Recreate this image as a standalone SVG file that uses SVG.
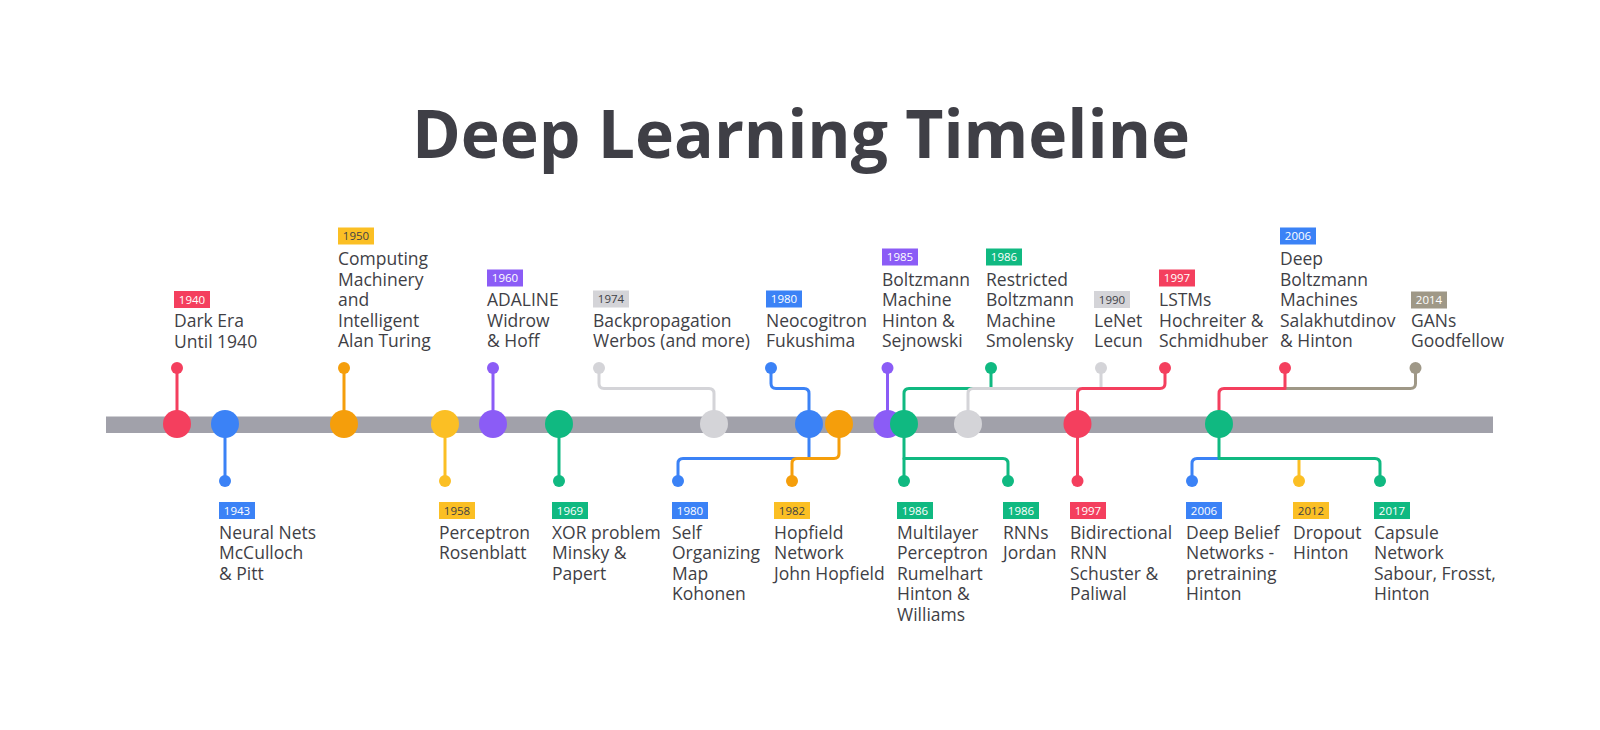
<svg xmlns="http://www.w3.org/2000/svg" width="1600" height="730" viewBox="0 0 1600 730">
<style>
.title{font-family:"Open Sans","Noto Sans","Liberation Sans",sans-serif;font-weight:700;font-size:66px;fill:#3f3f46}
.lbl{font-family:"Open Sans","Noto Sans","Liberation Sans",sans-serif;font-size:17.5px;fill:#3f3f46}
.yr{font-family:"Open Sans","Noto Sans","Liberation Sans",sans-serif;font-size:11.5px;fill:#ffffff;text-anchor:middle}
.yr.dk{fill:#3f3f46}
.c{fill:none;stroke-width:3;stroke-linejoin:round;stroke-linecap:round}
.red{fill:#f43f5e}.blue{fill:#3b82f6}.orange{fill:#f59e0b}.yellow{fill:#fbbf24}.purple{fill:#8b5cf6}.green{fill:#10b981}.gray{fill:#d4d4d8}.taupe{fill:#9f9887}
.sred{stroke:#f43f5e}.sblue{stroke:#3b82f6}.sorange{stroke:#f59e0b}.syellow{stroke:#fbbf24}.spurple{stroke:#8b5cf6}.sgreen{stroke:#10b981}.sgray{stroke:#d4d4d8}.staupe{stroke:#9f9887}
</style>
<rect width="1600" height="730" fill="#ffffff"/>
<text class="title" x="801" y="158" text-anchor="middle">Deep Learning Timeline</text>
<rect id="timeline-bar" x="106" y="416.5" width="1387" height="16.5" fill="#a1a1aa"/>

<g id="connectors">
  <path class="c sred" d="M177,368 V424"/>
  <path class="c sorange" d="M344,368 V424"/>
  <path class="c spurple" d="M493,368 V424"/>
  <path class="c sgray" d="M599,368 V383.5 Q599,388.5 604,388.5 H709 Q714,388.5 714,393.5 V424"/>
  <path class="c sblue" d="M771,368 V383.5 Q771,388.5 776,388.5 H804 Q809,388.5 809,393.5 V424"/>
  <path class="c spurple" d="M887.5,368 V424"/>
  <path class="c sgreen" d="M904,424 V393.5 Q904,388.5 909,388.5 H991 V368"/>
  <path class="c sgray" d="M1101,368 V388.5 H973 Q968,388.5 968,393.5 V424"/>
  <path class="c sred" d="M1165,368 V383.5 Q1165,388.5 1160,388.5 H1082.5 Q1077.5,388.5 1077.5,393.5 V424"/>
  <path class="c staupe" d="M1415.5,368 V383.5 Q1415.5,388.5 1410.5,388.5 H1285"/>
  <path class="c sred" d="M1285,368 V388.5 H1224 Q1219,388.5 1219,393.5 V424"/>

  <path class="c sblue" d="M225,424 V481"/>
  <path class="c syellow" d="M445,424 V481"/>
  <path class="c sgreen" d="M559,424 V481"/>
  <path class="c sblue" d="M809,424 V458.5 H683 Q678,458.5 678,463.5 V481"/>
  <path class="c sorange" d="M839,424 V453.5 Q839,458.5 834,458.5 H797 Q792,458.5 792,463.5 V481"/>
  <path class="c sgreen" d="M904,424 V481"/>
  <path class="c sgreen" d="M904,458.5 H1003 Q1008,458.5 1008,463.5 V481"/>
  <path class="c sred" d="M1077.5,424 V481"/>
  <path class="c sblue" d="M1219,458.5 H1197 Q1192,458.5 1192,463.5 V481"/>
  <path class="c syellow" d="M1299,458.5 V481"/>
  <path class="c sgreen" d="M1219,424 V458.5 H1375 Q1380,458.5 1380,463.5 V481"/>
</g>

<g id="bar-markers">
  <circle class="red" cx="177" cy="424" r="14"/>
  <circle class="blue" cx="225" cy="424" r="14"/>
  <circle class="orange" cx="344" cy="424" r="14"/>
  <circle class="yellow" cx="445" cy="424" r="14"/>
  <circle class="purple" cx="493" cy="424" r="14"/>
  <circle class="green" cx="559" cy="424" r="14"/>
  <circle class="gray" cx="714" cy="424" r="14"/>
  <circle class="blue" cx="809" cy="424" r="14"/>
  <circle class="orange" cx="839" cy="424" r="14"/>
  <circle class="purple" cx="887.5" cy="424" r="14"/>
  <circle class="green" cx="904" cy="424" r="14"/>
  <circle class="gray" cx="968" cy="424" r="14"/>
  <circle class="red" cx="1077.5" cy="424" r="14"/>
  <circle class="green" cx="1219" cy="424" r="14"/>
</g>

<g id="e1940">
  <circle class="red" cx="177" cy="368" r="6"/>
  <rect class="red" x="174" y="291" width="36" height="17"/>
  <text class="yr" x="192" y="303.5">1940</text>
  <text class="lbl" x="174" y="327"><tspan x="174">Dark Era</tspan><tspan x="174" dy="20.5">Until 1940</tspan></text>
</g>
<g id="e1950">
  <circle class="orange" cx="344" cy="368" r="6"/>
  <rect class="yellow" x="338" y="227.5" width="36" height="17"/>
  <text class="yr dk" x="356" y="240">1950</text>
  <text class="lbl" x="338" y="265"><tspan x="338">Computing</tspan><tspan x="338" dy="20.5">Machinery</tspan><tspan x="338" dy="20.5">and</tspan><tspan x="338" dy="20.5">Intelligent</tspan><tspan x="338" dy="20.5">Alan Turing</tspan></text>
</g>
<g id="e1960">
  <circle class="purple" cx="493" cy="368" r="6"/>
  <rect class="purple" x="487" y="269.5" width="36" height="17"/>
  <text class="yr" x="505" y="282">1960</text>
  <text class="lbl" x="487" y="306"><tspan x="487">ADALINE</tspan><tspan x="487" dy="20.5">Widrow</tspan><tspan x="487" dy="20.5">&amp; Hoff</tspan></text>
</g>
<g id="e1974">
  <circle class="gray" cx="599" cy="368" r="6"/>
  <rect class="gray" x="593" y="290.5" width="36" height="17"/>
  <text class="yr dk" x="611" y="303">1974</text>
  <text class="lbl" x="593" y="326.5"><tspan x="593">Backpropagation</tspan><tspan x="593" dy="20.5">Werbos (and more)</tspan></text>
</g>
<g id="e1980a">
  <circle class="blue" cx="771" cy="368" r="6"/>
  <rect class="blue" x="766" y="290.5" width="36" height="17"/>
  <text class="yr" x="784" y="303">1980</text>
  <text class="lbl" x="766" y="326.5"><tspan x="766">Neocogitron</tspan><tspan x="766" dy="20.5">Fukushima</tspan></text>
</g>
<g id="e1985">
  <circle class="purple" cx="887.5" cy="368" r="6"/>
  <rect class="purple" x="882" y="248.5" width="36" height="17"/>
  <text class="yr" x="900" y="261">1985</text>
  <text class="lbl" x="882" y="285.5"><tspan x="882">Boltzmann</tspan><tspan x="882" dy="20.5">Machine</tspan><tspan x="882" dy="20.5">Hinton &amp;</tspan><tspan x="882" dy="20.5">Sejnowski</tspan></text>
</g>
<g id="e1986a">
  <circle class="green" cx="991" cy="368" r="6"/>
  <rect class="green" x="986" y="248.5" width="36" height="17"/>
  <text class="yr" x="1004" y="261">1986</text>
  <text class="lbl" x="986" y="285.5"><tspan x="986">Restricted</tspan><tspan x="986" dy="20.5">Boltzmann</tspan><tspan x="986" dy="20.5">Machine</tspan><tspan x="986" dy="20.5">Smolensky</tspan></text>
</g>
<g id="e1990">
  <circle class="gray" cx="1101" cy="368" r="6"/>
  <rect class="gray" x="1094" y="291" width="36" height="17"/>
  <text class="yr dk" x="1112" y="303.5">1990</text>
  <text class="lbl" x="1094" y="326.5"><tspan x="1094">LeNet</tspan><tspan x="1094" dy="20.5">Lecun</tspan></text>
</g>
<g id="e1997a">
  <circle class="red" cx="1165" cy="368" r="6"/>
  <rect class="red" x="1159" y="269.5" width="36" height="17"/>
  <text class="yr" x="1177" y="282">1997</text>
  <text class="lbl" x="1159" y="306"><tspan x="1159">LSTMs</tspan><tspan x="1159" dy="20.5">Hochreiter &amp;</tspan><tspan x="1159" dy="20.5">Schmidhuber</tspan></text>
</g>
<g id="e2006a">
  <circle class="red" cx="1285" cy="368" r="6"/>
  <rect class="blue" x="1280" y="227.5" width="36" height="17"/>
  <text class="yr" x="1298" y="240">2006</text>
  <text class="lbl" x="1280" y="265"><tspan x="1280">Deep</tspan><tspan x="1280" dy="20.5">Boltzmann</tspan><tspan x="1280" dy="20.5">Machines</tspan><tspan x="1280" dy="20.5">Salakhutdinov</tspan><tspan x="1280" dy="20.5">&amp; Hinton</tspan></text>
</g>
<g id="e2014">
  <circle class="taupe" cx="1415.5" cy="368" r="6"/>
  <rect class="taupe" x="1411" y="291.5" width="36" height="17"/>
  <text class="yr" x="1429" y="304">2014</text>
  <text class="lbl" x="1411" y="326.5"><tspan x="1411">GANs</tspan><tspan x="1411" dy="20.5">Goodfellow</tspan></text>
</g>

<g id="e1943">
  <circle class="blue" cx="225" cy="481" r="6"/>
  <rect class="blue" x="219" y="502" width="36" height="17"/>
  <text class="yr" x="237" y="514.5">1943</text>
  <text class="lbl" x="219" y="538.5"><tspan x="219">Neural Nets</tspan><tspan x="219" dy="20.5">McCulloch</tspan><tspan x="219" dy="20.5">&amp; Pitt</tspan></text>
</g>
<g id="e1958">
  <circle class="yellow" cx="445" cy="481" r="6"/>
  <rect class="yellow" x="439" y="502" width="36" height="17"/>
  <text class="yr dk" x="457" y="514.5">1958</text>
  <text class="lbl" x="439" y="538.5"><tspan x="439">Perceptron</tspan><tspan x="439" dy="20.5">Rosenblatt</tspan></text>
</g>
<g id="e1969">
  <circle class="green" cx="559" cy="481" r="6"/>
  <rect class="green" x="552" y="502" width="36" height="17"/>
  <text class="yr" x="570" y="514.5">1969</text>
  <text class="lbl" x="552" y="538.5"><tspan x="552">XOR problem</tspan><tspan x="552" dy="20.5">Minsky &amp;</tspan><tspan x="552" dy="20.5">Papert</tspan></text>
</g>
<g id="e1980b">
  <circle class="blue" cx="678" cy="481" r="6"/>
  <rect class="blue" x="672" y="502" width="36" height="17"/>
  <text class="yr" x="690" y="514.5">1980</text>
  <text class="lbl" x="672" y="538.5"><tspan x="672">Self</tspan><tspan x="672" dy="20.5">Organizing</tspan><tspan x="672" dy="20.5">Map</tspan><tspan x="672" dy="20.5">Kohonen</tspan></text>
</g>
<g id="e1982">
  <circle class="orange" cx="792" cy="481" r="6"/>
  <rect class="yellow" x="774" y="502" width="36" height="17"/>
  <text class="yr dk" x="792" y="514.5">1982</text>
  <text class="lbl" x="774" y="538.5"><tspan x="774">Hopfield</tspan><tspan x="774" dy="20.5">Network</tspan><tspan x="774" dy="20.5">John Hopfield</tspan></text>
</g>
<g id="e1986b">
  <circle class="green" cx="904" cy="481" r="6"/>
  <rect class="green" x="897" y="502" width="36" height="17"/>
  <text class="yr" x="915" y="514.5">1986</text>
  <text class="lbl" x="897" y="538.5"><tspan x="897">Multilayer</tspan><tspan x="897" dy="20.5">Perceptron</tspan><tspan x="897" dy="20.5">Rumelhart</tspan><tspan x="897" dy="20.5">Hinton &amp;</tspan><tspan x="897" dy="20.5">Williams</tspan></text>
</g>
<g id="e1986c">
  <circle class="green" cx="1008" cy="481" r="6"/>
  <rect class="green" x="1003" y="502" width="36" height="17"/>
  <text class="yr" x="1021" y="514.5">1986</text>
  <text class="lbl" x="1003" y="538.5"><tspan x="1003">RNNs</tspan><tspan x="1003" dy="20.5">Jordan</tspan></text>
</g>
<g id="e1997b">
  <circle class="red" cx="1077.5" cy="481" r="6"/>
  <rect class="red" x="1070" y="502" width="36" height="17"/>
  <text class="yr" x="1088" y="514.5">1997</text>
  <text class="lbl" x="1070" y="538.5"><tspan x="1070">Bidirectional</tspan><tspan x="1070" dy="20.5">RNN</tspan><tspan x="1070" dy="20.5">Schuster &amp;</tspan><tspan x="1070" dy="20.5">Paliwal</tspan></text>
</g>
<g id="e2006b">
  <circle class="blue" cx="1192" cy="481" r="6"/>
  <rect class="blue" x="1186" y="502" width="36" height="17"/>
  <text class="yr" x="1204" y="514.5">2006</text>
  <text class="lbl" x="1186" y="538.5"><tspan x="1186">Deep Belief</tspan><tspan x="1186" dy="20.5">Networks -</tspan><tspan x="1186" dy="20.5">pretraining</tspan><tspan x="1186" dy="20.5">Hinton</tspan></text>
</g>
<g id="e2012">
  <circle class="yellow" cx="1299" cy="481" r="6"/>
  <rect class="yellow" x="1293" y="502" width="36" height="17"/>
  <text class="yr dk" x="1311" y="514.5">2012</text>
  <text class="lbl" x="1293" y="538.5"><tspan x="1293">Dropout</tspan><tspan x="1293" dy="20.5">Hinton</tspan></text>
</g>
<g id="e2017">
  <circle class="green" cx="1380" cy="481" r="6"/>
  <rect class="green" x="1374" y="502" width="36" height="17"/>
  <text class="yr" x="1392" y="514.5">2017</text>
  <text class="lbl" x="1374" y="538.5"><tspan x="1374">Capsule</tspan><tspan x="1374" dy="20.5">Network</tspan><tspan x="1374" dy="20.5">Sabour, Frosst,</tspan><tspan x="1374" dy="20.5">Hinton</tspan></text>
</g>
</svg>
